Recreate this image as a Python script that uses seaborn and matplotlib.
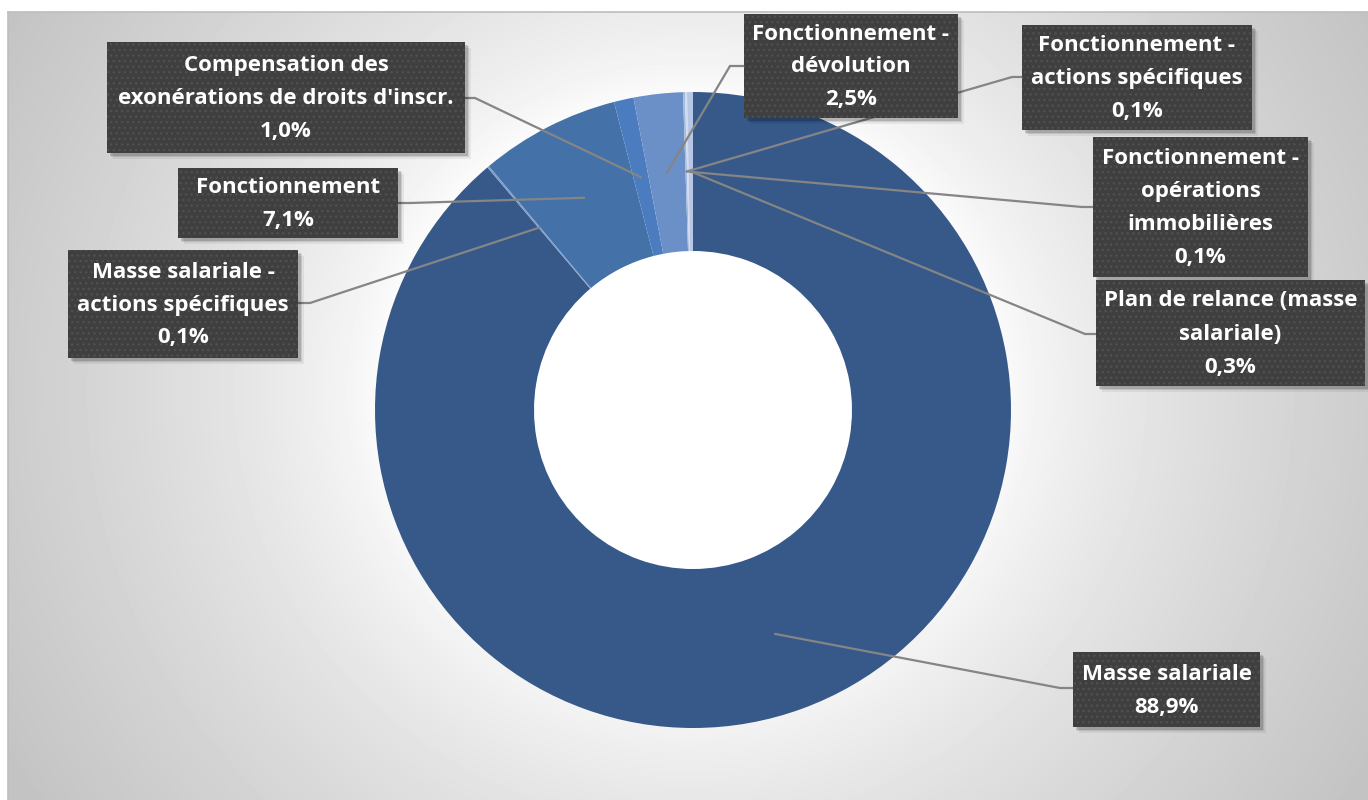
import numpy as np
import matplotlib
matplotlib.use("Agg")
import matplotlib.pyplot as plt
import seaborn as sns
from matplotlib.patches import Rectangle, ConnectionPatch

# ---------------- data ----------------
categories = [
    "Masse salariale",
    "Masse salariale -\nactions spécifiques",
    "Fonctionnement",
    "Compensation des\nexonérations de droits d'inscr.",
    "Fonctionnement -\ndévolution",
    "Fonctionnement -\nactions spécifiques",
    "Fonctionnement -\nopérations\nimmobilières",
    "Plan de relance (masse\nsalariale)",
]
values = [88.9, 0.1, 7.1, 1.0, 2.5, 0.1, 0.1, 0.3]
colors = ["#36598A", "#7E9FCB", "#4472A8", "#4A7CBF", "#6B8FC7",
          "#A3B8DE", "#D3DCEE", "#B7C7E5"]

# ---------------- layout (pixels) ----------------
W, H = 1368, 800
# box rectangles (x0, y0, x1, y1) and elbow points for leader lines
boxes = [
    (1073, 652, 1260, 727),
    (68, 250, 298, 358),
    (178, 168, 398, 238),
    (107, 42, 465, 153),
    (744, 14, 958, 118),
    (1022, 25, 1252, 130),
    (1093, 137, 1308, 277),
    (1096, 280, 1365, 386),
]
elbows = [
    ((1060, 688), (1073, 688)),
    ((310, 303), (298, 303)),
    ((410, 203), (398, 203)),
    ((475, 98), (465, 98)),
    ((730, 66), (744, 66)),
    ((1012, 77), (1022, 77)),
    ((1082, 207), (1093, 207)),
    ((1085, 334), (1096, 334)),
]

sns.set_theme(style="white")
plt.rcParams["font.family"] = ["Open Sans", "DejaVu Sans"]

fig = plt.figure(figsize=(W / 100, H / 100), dpi=100)

# background with radial gradient
ax_bg = fig.add_axes([0, 0, 1, 1], zorder=0)
yy, xx = np.mgrid[0:H, 0:W]
d = np.hypot(xx - 690, (yy - 390) * 1.05)
v = 1 - 0.235 * np.clip((d - 300) / 490, 0, 1) ** 0.7
v[(xx < 8) | (yy < 12)] = 1.0
ax_bg.imshow(v, cmap="gray", vmin=0, vmax=1, extent=(0, W, H, 0), aspect="auto")
ax_bg.plot([8, 8], [H, 12], color="#bdbdbd", lw=1.2)
ax_bg.plot([8, W], [12, 12], color="#bdbdbd", lw=1.2)
ax_bg.set_xlim(0, W)
ax_bg.set_ylim(H, 0)
ax_bg.axis("off")

# donut
cx, cy, R = 693, 410, 318
ax = fig.add_axes([(cx - R) / W, (H - cy - R) / H, 2 * R / W, 2 * R / H], zorder=1)
ax.patch.set_alpha(0)
wedges, _ = ax.pie(values, colors=colors, startangle=90, counterclock=False,
                   radius=1.0, wedgeprops=dict(width=0.5, linewidth=0))
ax.set_xlim(-1, 1)
ax.set_ylim(-1, 1)
ax.set_aspect("equal")
ax.axis("off")

# overlay for labels
ov = fig.add_axes([0, 0, 1, 1], zorder=2)
ov.patch.set_alpha(0)
ov.set_xlim(0, W)
ov.set_ylim(H, 0)
ov.axis("off")

line_col = "#858585"
for w, (p1, p2) in zip(wedges, elbows):
    mid = np.deg2rad((w.theta1 + w.theta2) / 2)
    anchor = (0.75 * np.cos(mid), 0.75 * np.sin(mid))
    con = ConnectionPatch(xyA=anchor, coordsA=ax.transData,
                          xyB=p1, coordsB=ov.transData,
                          color=line_col, lw=1.6, zorder=3)
    ov.add_artist(con)
    ov.plot([p1[0], p2[0]], [p1[1], p2[1]], color=line_col, lw=1.6, zorder=3)

for cat, val, (x0, y0, x1, y1) in zip(categories, values, boxes):
    # shadow
    for off, a in [(6, 0.06), (4, 0.10), (2.5, 0.14)]:
        ov.add_patch(Rectangle((x0 + off, y0 + off), x1 - x0, y1 - y0,
                               facecolor="black", alpha=a, lw=0, zorder=4))
    ov.add_patch(Rectangle((x0, y0), x1 - x0, y1 - y0, facecolor="#3f3f3f",
                           edgecolor="#505050", lw=0, hatch="...", zorder=5))
    lines = cat.split("\n") + [f"{val:.1f}%".replace(".", ",")]
    n = len(lines)
    yc = (y0 + y1) / 2 + 1
    xc = (x0 + x1) / 2
    for i, t in enumerate(lines):
        ov.text(xc, yc + (i - (n - 1) / 2) * 33, t, ha="center", va="center",
                color="white", fontsize=16, fontweight="bold", zorder=6)

fig.savefig("out.png", dpi=100)
